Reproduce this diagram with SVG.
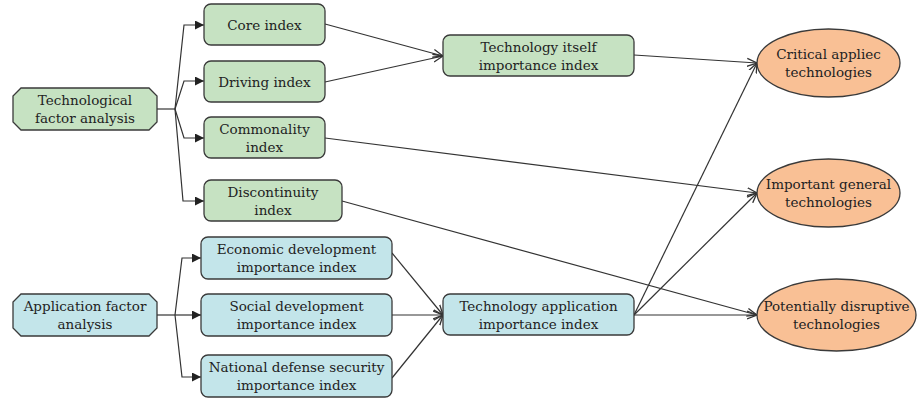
<svg xmlns="http://www.w3.org/2000/svg" width="921" height="400" viewBox="0 0 921 400">
<defs>
<style>
text{font-family:"DejaVu Serif",serif;font-size:13.5px;fill:#222;text-anchor:middle}
.g{fill:#c6e2c2;stroke:#3a3a3a;stroke-width:1.3}
.b{fill:#c3e5ea;stroke:#3a3a3a;stroke-width:1.3}
.o{fill:#f9c095;stroke:#3a3a3a;stroke-width:1.3}
.c{fill:none;stroke:#333;stroke-width:1.2}
.t{marker-end:url(#fa)}
.v{marker-end:url(#oa)}
</style>
<marker id="fa" viewBox="0 0 10 10" refX="10" refY="5" markerWidth="10" markerHeight="9" markerUnits="userSpaceOnUse" orient="auto"><path d="M0,0L10,5L0,10Z" fill="#222"/></marker>
<marker id="oa" viewBox="0 0 10 10" refX="10" refY="5" markerWidth="10" markerHeight="10" markerUnits="userSpaceOnUse" orient="auto"><path d="M0,1L10,5L0,9" fill="none" stroke="#333" stroke-width="1.3"/></marker>
</defs>
<rect width="921" height="400" fill="#fff"/>
<g id="connectors">
<path class="c" d="M157,109H175"/>
<path class="c t" d="M175,109L184,25H204"/>
<path class="c t" d="M175,109L184,81H204"/>
<path class="c t" d="M175,109L184,138H204"/>
<path class="c t" d="M175,109L183,201H204"/>
<path class="c" d="M157,315H175"/>
<path class="c t" d="M175,315L182,258H201"/>
<path class="c t" d="M175,315H201"/>
<path class="c t" d="M175,315L182,377H201"/>
<path class="c v" d="M325,24L443,56"/>
<path class="c v" d="M325,82L443,56"/>
<path class="c v" d="M634,55L757,63"/>
<path class="c v" d="M325,138L757,193"/>
<path class="c v" d="M342,201L757,315"/>
<path class="c v" d="M392,253L443,315"/>
<path class="c v" d="M392,315H443"/>
<path class="c v" d="M392,378L443,315"/>
<path class="c v" d="M634,315L757,63"/>
<path class="c v" d="M634,315L757,193"/>
<path class="c v" d="M634,315H757"/>
</g>
<g id="tech-factor"><path class="g" d="M21,88H149L157,96V122L149,130H21L13,122V96Z"/><text x="85" y="105">Technological</text><text x="85" y="123">factor analysis</text></g>
<g id="core"><rect class="g" x="204" y="4" width="121" height="41" rx="7"/><text x="264.5" y="30">Core index</text></g>
<g id="driving"><rect class="g" x="204" y="61" width="121" height="41" rx="7"/><text x="264.5" y="87">Driving index</text></g>
<g id="commonality"><rect class="g" x="204" y="117" width="121" height="41" rx="7"/><text x="264.5" y="134">Commonality</text><text x="264.5" y="152">index</text></g>
<g id="discontinuity"><rect class="g" x="204" y="180" width="138" height="41" rx="7"/><text x="273" y="197">Discontinuity</text><text x="273" y="215">index</text></g>
<g id="tech-itself"><rect class="g" x="443" y="35" width="191" height="41" rx="7"/><text x="538.5" y="52">Technology itself</text><text x="538.5" y="70">importance index</text></g>
<g id="app-factor"><path class="b" d="M21,294H149L157,302V328L149,336H21L13,328V302Z"/><text x="85" y="311">Application factor</text><text x="85" y="329">analysis</text></g>
<g id="economic"><rect class="b" x="201" y="237" width="191" height="42" rx="7"/><text x="296.5" y="254">Economic development</text><text x="296.5" y="272">importance index</text></g>
<g id="social"><rect class="b" x="201" y="294" width="191" height="42" rx="7"/><text x="296.5" y="311">Social development</text><text x="296.5" y="329">importance index</text></g>
<g id="national"><rect class="b" x="201" y="355" width="191" height="42" rx="7"/><text x="296.5" y="372">National defense security</text><text x="296.5" y="390">importance index</text></g>
<g id="tech-app"><rect class="b" x="443" y="294" width="191" height="41" rx="7"/><text x="538.5" y="311">Technology application</text><text x="538.5" y="329">importance index</text></g>
<g id="critical"><ellipse class="o" cx="828.5" cy="63" rx="71.5" ry="34"/><text x="828.5" y="59">Critical appliec</text><text x="828.5" y="77">technologies</text></g>
<g id="important"><ellipse class="o" cx="828.5" cy="193" rx="71.5" ry="34"/><text x="828.5" y="189">Important general</text><text x="828.5" y="207">technologies</text></g>
<g id="disruptive"><ellipse class="o" cx="836.5" cy="315" rx="79.5" ry="36"/><text x="836.5" y="311">Potentially disruptive</text><text x="836.5" y="329">technologies</text></g>
</svg>
